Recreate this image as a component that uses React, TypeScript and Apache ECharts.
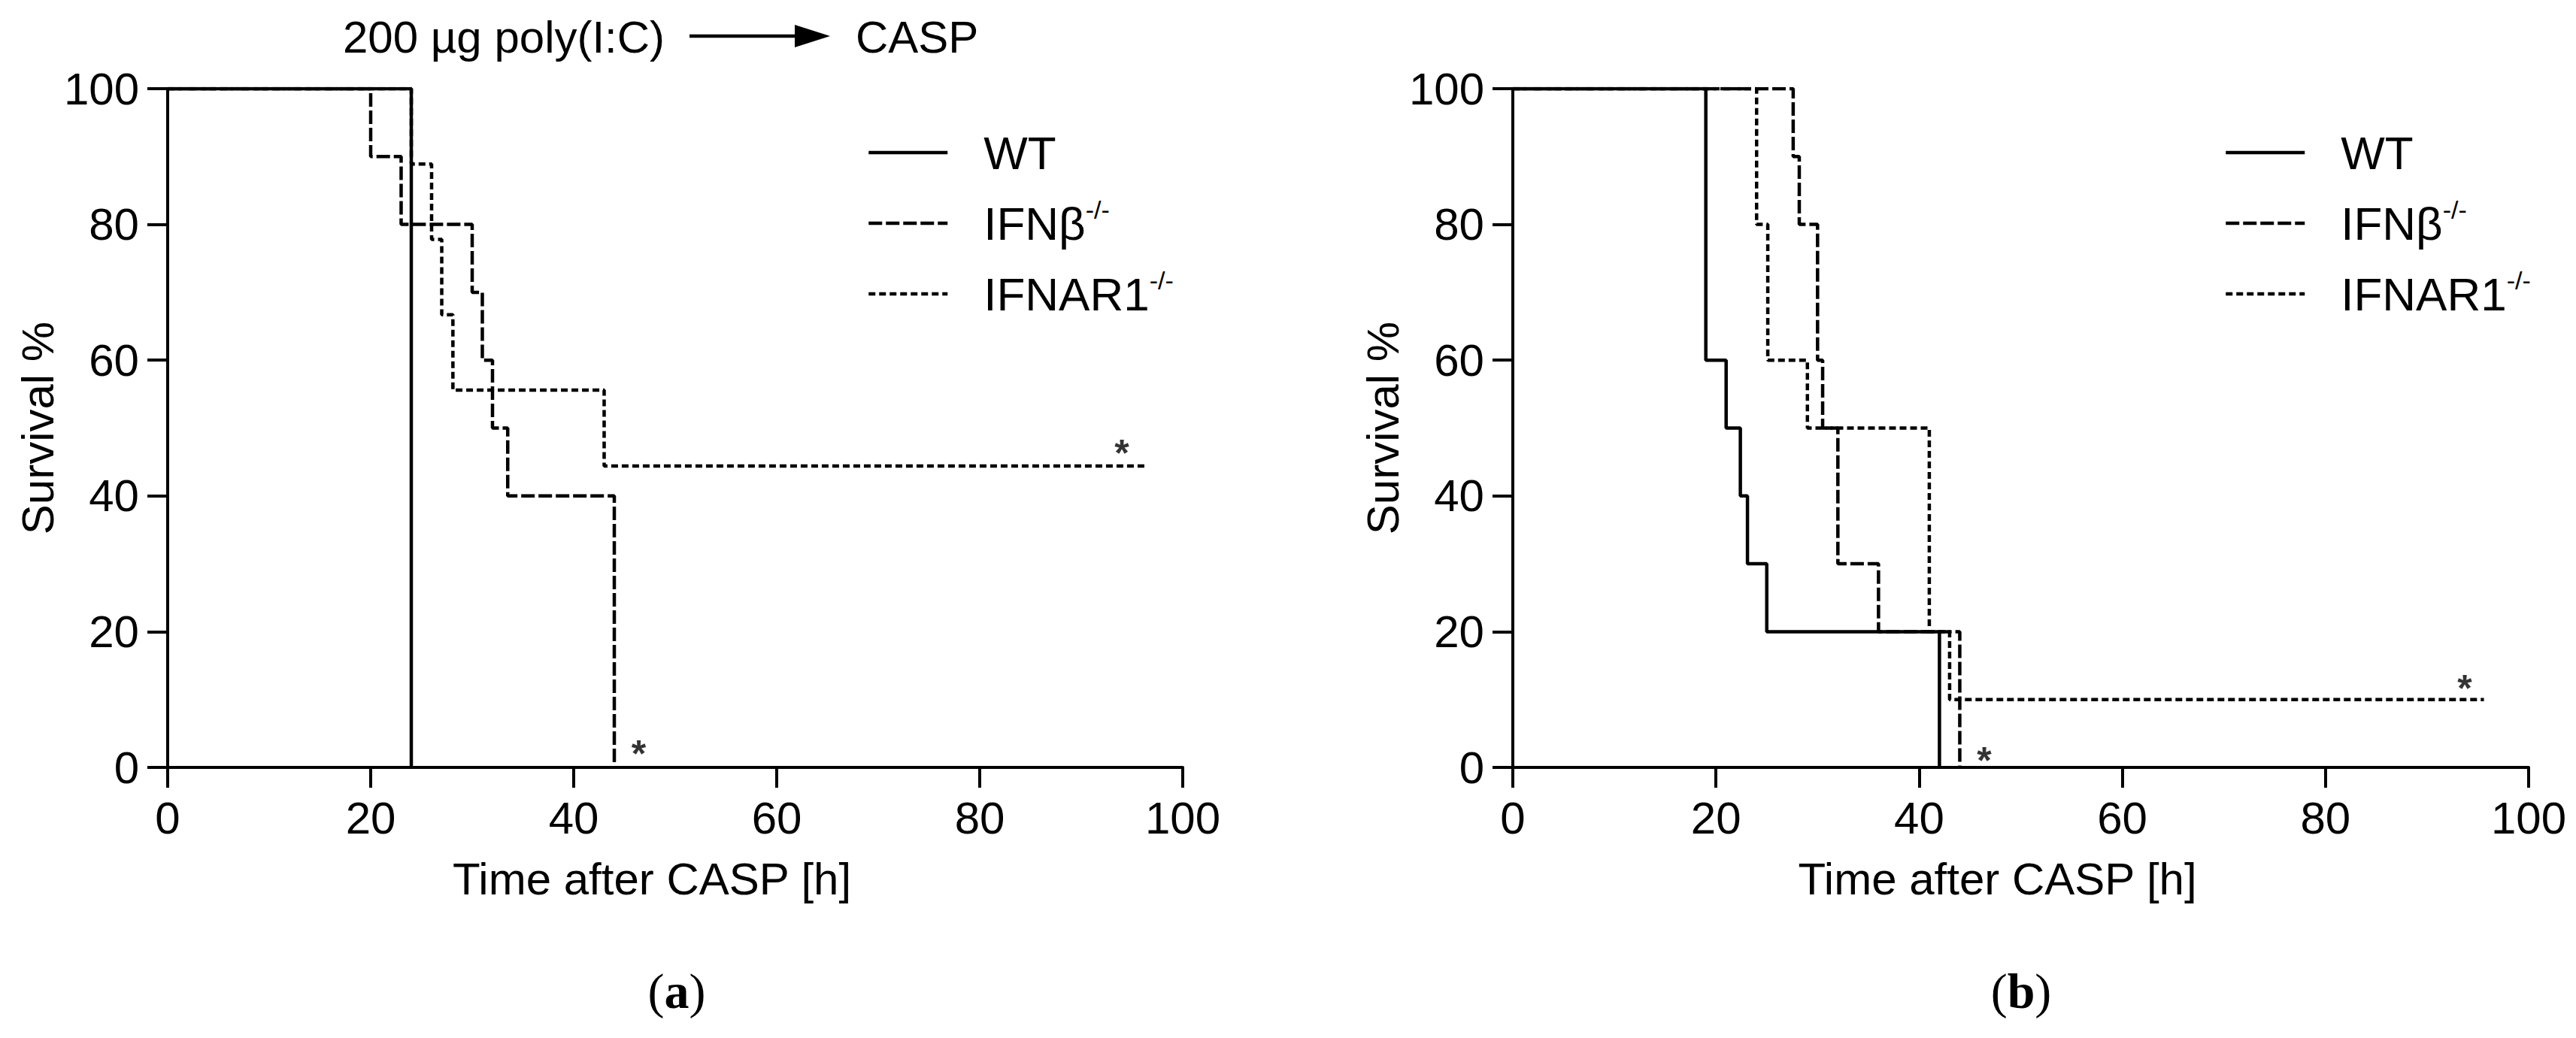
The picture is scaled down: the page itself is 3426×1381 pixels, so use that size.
import React, { useEffect, useRef } from "react";
import * as echarts from "echarts";

const FONT = "'Liberation Sans', Arial, Helvetica, sans-serif";
const SERIF = "'Liberation Serif', 'Times New Roman', serif";

// axis ticks
const xTickMin = 0;
const xTickMax = 100;
const xTickStep = 20;
const yTickMin = 0;
const yTickMax = 100;
const yTickStep = 20;

// legend names
const seriesNames = ["WT", "IFNβ", "IFNAR1"];

// Panel (a): Kaplan-Meier steps [time h, survival %]
const aWT = [[0, 100], [24, 0]];
const aIFNb = [[0, 100], [20, 90], [23, 80], [30, 70], [31, 60], [32, 50], [33.5, 40], [44, 0]];
const aIFNAR1 = [[0, 100], [24, 88.9], [26, 77.8], [27, 66.7], [28.1, 55.6], [43, 44.4], [96.4, 44.4]];
const aStars = [[94, 47.6], [46.4, 3.3]];

// Panel (b)
const bWT = [[0, 100], [19, 60], [21, 50], [22.4, 40], [23.1, 30], [25, 20], [42, 0]];
const bIFNb = [[0, 100], [27.6, 90], [28.2, 80], [30, 60], [30.5, 50], [32, 30], [36, 20], [44, 0]];
const bIFNAR1 = [[0, 100], [24, 80], [25.1, 60], [29, 50], [41, 20], [43, 10], [95.6, 10]];
const bStars = [[93.7, 13.0], [46.4, 2.3]];

const lineTypes: any = {
  WT: "solid",
  "IFNβ": [18, 5],
  IFNAR1: [9, 5],
};

function App() {
  const ref = useRef<HTMLDivElement>(null);

  useEffect(() => {
    if (!ref.current) return;
    const chart = echarts.init(ref.current, null, { renderer: "svg" });

    const grids = [
      { left: 223, top: 118, width: 1350, height: 903 },
      { left: 2012, top: 118, width: 1351, height: 903 },
    ];

    const mkX = (i: number) => ({
      type: "value",
      gridIndex: i,
      min: xTickMin,
      max: xTickMax,
      interval: xTickStep,
      axisLine: { show: true, onZero: false, lineStyle: { color: "#000", width: 4 } },
      axisTick: { show: true, length: 27, lineStyle: { color: "#000", width: 4 } },
      axisLabel: { fontSize: 60, color: "#000", margin: 37, fontFamily: FONT },
      splitLine: { show: false },
      name: "Time after CASP [h]",
      nameLocation: "middle",
      nameGap: 118,
      nameTextStyle: { fontSize: 60, color: "#000", fontFamily: FONT, padding: [0, 62, 0, 0] },
    });
    const mkY = (i: number, gap: number) => ({
      type: "value",
      gridIndex: i,
      min: yTickMin,
      max: yTickMax,
      interval: yTickStep,
      axisLine: { show: true, onZero: false, lineStyle: { color: "#000", width: 4 } },
      axisTick: { show: true, length: 27, lineStyle: { color: "#000", width: 4 } },
      axisLabel: { fontSize: 60, color: "#000", margin: 38, fontFamily: FONT },
      splitLine: { show: false },
      name: "Survival %",
      nameLocation: "middle",
      nameGap: gap,
      nameTextStyle: { fontSize: 60, color: "#000", fontFamily: FONT },
    });

    const mkLine = (name: string, data: number[][], i: number) => ({
      type: "line",
      name,
      xAxisIndex: i,
      yAxisIndex: i,
      step: "end",
      symbol: "none",
      silent: true,
      color: "#000",
      itemStyle: { color: "#000" },
      z: name === "WT" ? 4 : 3,
      lineStyle: { color: "#000", width: 4.5, type: lineTypes[name], cap: "butt" },
      data,
    });

    const mkStars = (data: number[][], i: number) => ({
      type: "scatter",
      xAxisIndex: i,
      yAxisIndex: i,
      symbol: "circle",
      symbolSize: 1,
      silent: true,
      itemStyle: { color: "rgba(0,0,0,0)" },
      label: {
        show: true,
        position: "inside",
        formatter: "*",
        fontSize: 50,
        fontWeight: "bold",
        color: "#000",
        fontFamily: FONT,
        offset: [0, 12],
      },
      data,
    });

    const legendFormatter = (name: string) =>
      name === "WT" ? "{m|WT}" : `{m|${name}}{s|-/-}`;
    const mkLegend = (left: number) => ({
      data: seriesNames,
      orient: "vertical",
      left,
      top: 168,
      padding: 0,
      itemWidth: 105,
      itemHeight: 20,
      itemGap: 24,
      selectedMode: false,
      itemStyle: { opacity: 0, color: "rgba(0,0,0,0)", borderWidth: 0 },
      lineStyle: { color: "#000", width: 4.5, type: "inherit", cap: "butt" },
      formatter: legendFormatter,
      textStyle: {
        fontSize: 62,
        lineHeight: 70,
        color: "#000",
        fontFamily: FONT,
        padding: [0, 0, 0, 43],
        rich: {
          m: { fontSize: 62, lineHeight: 70, color: "#000", fontFamily: FONT },
          s: { fontSize: 34, lineHeight: 50, verticalAlign: "top", color: "#000", fontFamily: FONT },
        },
      },
    });

    const option: any = {
      animation: false,
      backgroundColor: "#fff",
      grid: grids,
      xAxis: [mkX(0), mkX(1)],
      yAxis: [mkY(0, 140), mkY(1, 130)],
      legend: [mkLegend(1153), mkLegend(2958)],
      series: [
        mkLine("WT", aWT, 0),
        mkLine("IFNβ", aIFNb, 0),
        mkLine("IFNAR1", aIFNAR1, 0),
        mkStars(aStars, 0),
        mkLine("WT", bWT, 1),
        mkLine("IFNβ", bIFNb, 1),
        mkLine("IFNAR1", bIFNAR1, 1),
        mkStars(bStars, 1),
      ],
      graphic: [
        {
          type: "text",
          x: 456,
          y: 49,
          style: {
            text: "200 µg poly(I:C)",
            fontSize: 60,
            fontFamily: FONT,
            fill: "#000",
            align: "left",
            verticalAlign: "middle",
            textAlign: "left",
            textVerticalAlign: "middle",
          },
        },
        {
          type: "line",
          shape: { x1: 917, y1: 48, x2: 1062, y2: 48 },
          style: { stroke: "#000", lineWidth: 4.5 },
        },
        {
          type: "polygon",
          shape: { points: [[1057, 33], [1104, 48], [1057, 63]] },
          style: { fill: "#000" },
        },
        {
          type: "text",
          x: 1138,
          y: 49,
          style: {
            text: "CASP",
            fontSize: 60,
            fontFamily: FONT,
            fill: "#000",
            align: "left",
            verticalAlign: "middle",
            textAlign: "left",
            textVerticalAlign: "middle",
          },
        },
        {
          type: "text",
          x: 900,
          y: 1318,
          style: {
            text: "{p|(}{b|a}{p|)}",
            align: "center",
            verticalAlign: "middle",
            textAlign: "center",
            textVerticalAlign: "middle",
            rich: {
              p: { fontSize: 66, fontFamily: SERIF, fill: "#000", color: "#000" },
              b: { fontSize: 66, fontFamily: SERIF, fontWeight: "bold", fill: "#000", color: "#000" },
            },
          },
        },
        {
          type: "text",
          x: 2688,
          y: 1318,
          style: {
            text: "{p|(}{b|b}{p|)}",
            align: "center",
            verticalAlign: "middle",
            textAlign: "center",
            textVerticalAlign: "middle",
            rich: {
              p: { fontSize: 66, fontFamily: SERIF, fill: "#000", color: "#000" },
              b: { fontSize: 66, fontFamily: SERIF, fontWeight: "bold", fill: "#000", color: "#000" },
            },
          },
        },
      ],
    };

    chart.setOption(option);
    return () => chart.dispose();
  }, []);

  return (
    <div
      ref={ref}
      style={{ position: "absolute", left: 0, top: 0, width: 3426, height: 1381, background: "#fff" }}
    />
  );
}

export default App;
